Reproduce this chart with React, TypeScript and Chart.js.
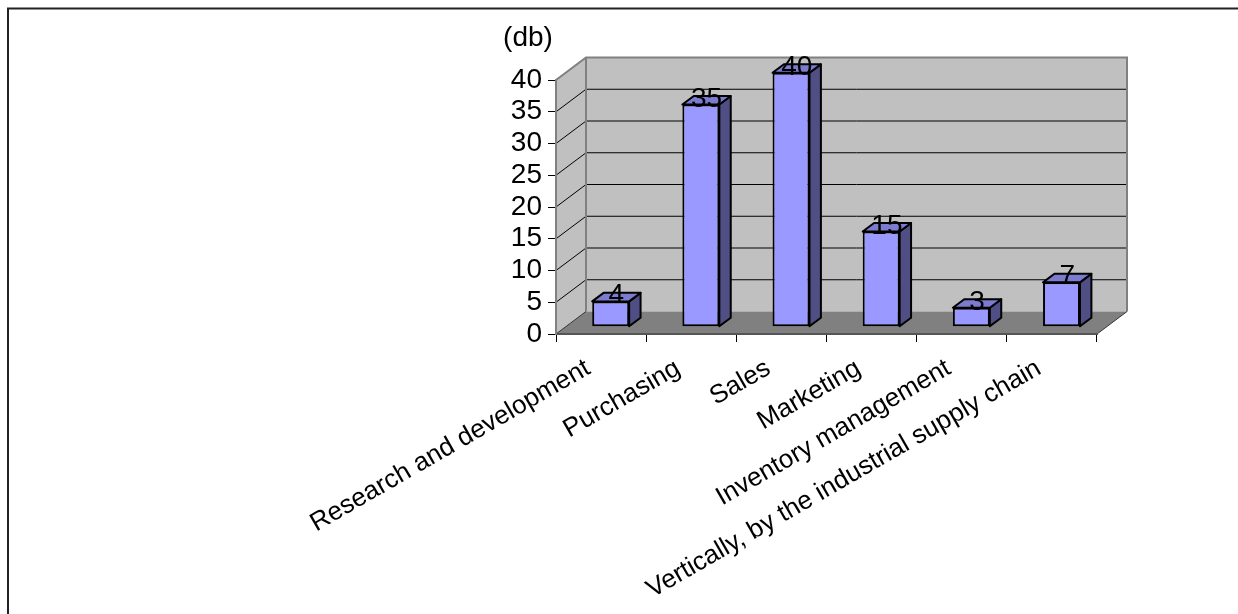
import { useEffect, useRef } from 'react';
import { Chart, registerables } from 'chart.js';

Chart.register(...registerables);

// Survey answers: where the respondents place the activity (number of firms, "db")
const categories = [
  'Research and development',
  'Purchasing',
  'Sales',
  'Marketing',
  'Inventory management',
  'Vertically, by the industrial supply chain',
];
const counts = [4, 35, 40, 15, 3, 7];
const unitLabel = '(db)';
const yMin = 0;
const yMax = 40;
const yStep = 5;

const FONT = '"Liberation Sans", Arial, Helvetica, sans-serif';

// Oblique projection of the box: full depth of the walls in pixels
const WALL_DX = 30;
const WALL_DY = -22.5;
// Bars sit in the middle of the depth
const BAR_SHIFT = 0.32;
const BAR_DEPTH = 0.38;

const FRONT = '#9999FF';
const TOP = '#7B7BCF';
const SIDE = '#4F4F86';

function poly(ctx: CanvasRenderingContext2D, pts: number[][]) {
  ctx.beginPath();
  ctx.moveTo(pts[0][0], pts[0][1]);
  for (let i = 1; i < pts.length; i++) ctx.lineTo(pts[i][0], pts[i][1]);
  ctx.closePath();
}

const box3d = {
  id: 'box3d',
  beforeDraw(chart: any) {
    const { ctx, chartArea: a } = chart;
    const ys = chart.scales.y;
    const y0 = ys.getPixelForValue(yMin);
    const yT = ys.getPixelForValue(yMax);
    const dx = WALL_DX;
    const dy = WALL_DY;
    ctx.save();

    // outer frame (left and top edges are inside the canvas)
    ctx.strokeStyle = '#222';
    ctx.lineWidth = 2;
    ctx.beginPath();
    ctx.moveTo(8, chart.height + 10);
    ctx.lineTo(8, 8.5);
    ctx.lineTo(chart.width + 10, 8.5);
    ctx.stroke();

    // back wall
    ctx.fillStyle = '#C0C0C0';
    ctx.fillRect(a.left + dx, yT + dy, a.right - a.left, y0 - yT);
    // side wall
    poly(ctx, [[a.left, y0], [a.left, yT], [a.left + dx, yT + dy], [a.left + dx, y0 + dy]]);
    ctx.fill();
    // floor
    ctx.fillStyle = '#808080';
    poly(ctx, [[a.left, y0], [a.right, y0], [a.right + dx, y0 + dy], [a.left + dx, y0 + dy]]);
    ctx.fill();

    // gridlines on the back wall and the side wall
    ctx.strokeStyle = '#000';
    ctx.lineWidth = 1;
    ys.ticks.forEach((t: any) => {
      if (t.value <= yMin || t.value >= yMax) return;
      const py = ys.getPixelForValue(t.value);
      ctx.beginPath();
      ctx.moveTo(a.left, py);
      ctx.lineTo(a.left + dx, py + dy);
      ctx.lineTo(a.right + dx, py + dy);
      ctx.stroke();
    });

    // wall edges
    ctx.strokeStyle = '#808080';
    ctx.lineWidth = 2;
    ctx.beginPath();
    ctx.moveTo(a.left, yT);
    ctx.lineTo(a.left + dx, yT + dy);
    ctx.lineTo(a.right + dx, yT + dy);
    ctx.lineTo(a.right + dx, y0 + dy);
    ctx.moveTo(a.left + dx, yT + dy);
    ctx.lineTo(a.left + dx, y0 + dy);
    ctx.stroke();

    // floor edges
    ctx.strokeStyle = '#333';
    ctx.lineWidth = 1;
    ctx.beginPath();
    ctx.moveTo(a.right, y0);
    ctx.lineTo(a.right + dx, y0 + dy);
    ctx.moveTo(a.left, y0);
    ctx.lineTo(a.left + dx, y0 + dy);
    ctx.stroke();
    ctx.restore();
  },
  beforeDatasetsDraw(chart: any) {
    chart.ctx.save();
    chart.ctx.translate(WALL_DX * BAR_SHIFT, WALL_DY * BAR_SHIFT);
  },
  afterDatasetsDraw(chart: any) {
    const { ctx } = chart;
    ctx.restore();
    const sx = WALL_DX * BAR_SHIFT;
    const sy = WALL_DY * BAR_SHIFT;
    const bx = WALL_DX * BAR_DEPTH;
    const by = WALL_DY * BAR_DEPTH;
    const meta = chart.getDatasetMeta(0);
    ctx.save();
    ctx.lineWidth = 2;
    ctx.lineJoin = 'round';
    ctx.strokeStyle = '#000';
    meta.data.forEach((bar: any) => {
      const p = bar.getProps(['x', 'y', 'base', 'width'], true);
      const l = p.x - p.width / 2 + sx;
      const r = p.x + p.width / 2 + sx;
      const t = p.y + sy;
      const b = p.base + sy;
      ctx.fillStyle = SIDE;
      poly(ctx, [[r, t], [r, b], [r + bx, b + by], [r + bx, t + by]]);
      ctx.fill();
      ctx.stroke();
      ctx.fillStyle = TOP;
      poly(ctx, [[l, t], [r, t], [r + bx, t + by], [l + bx, t + by]]);
      ctx.fill();
      ctx.stroke();
    });

    // value labels above the bars
    ctx.fillStyle = '#000';
    ctx.font = `28px ${FONT}`;
    ctx.textAlign = 'center';
    ctx.textBaseline = 'alphabetic';
    meta.data.forEach((bar: any, i: number) => {
      const p = bar.getProps(['x', 'y'], true);
      ctx.fillText(String(counts[i]), p.x + sx + bx / 2, p.y + sy + 2);
    });

    // unit caption above the value axis
    const ys = chart.scales.y;
    ctx.font = `28px ${FONT}`;
    ctx.textBaseline = 'middle';
    ctx.fillText(unitLabel, chart.chartArea.left - 28, ys.getPixelForValue(yMax) - 42);
    ctx.restore();
  },
};

export default function App() {
  const ref = useRef<HTMLCanvasElement | null>(null);

  useEffect(() => {
    if (!ref.current) return;
    const chart = new Chart(ref.current, {
      type: 'bar',
      data: {
        labels: categories,
        datasets: [
          {
            data: counts,
            backgroundColor: FRONT,
            borderColor: '#000',
            borderWidth: 2,
            borderSkipped: false,
            barPercentage: 0.41,
            categoryPercentage: 1,
            clip: false as any,
          },
        ],
      },
      options: {
        responsive: false,
        animation: false,
        events: [],
        layout: { padding: { left: 0, top: 80, right: 141, bottom: 0 } },
        plugins: {
          legend: { display: false },
          tooltip: { enabled: false },
          title: { display: false },
        },
        scales: {
          x: {
            grid: {
              drawOnChartArea: false,
              drawTicks: true,
              tickLength: 8,
              color: '#000',
              lineWidth: 1,
            },
            border: { display: true, color: '#555', width: 2 },
            ticks: {
              autoSkip: false,
              minRotation: 30,
              maxRotation: 30,
              padding: 11,
              labelOffset: -13,
              color: '#000',
              font: { family: FONT, size: 26 },
            },
            afterFit: (scale: any) => {
              scale.height = 280;
            },
          },
          y: {
            min: yMin,
            max: yMax,
            grid: {
              drawOnChartArea: false,
              drawTicks: true,
              tickLength: 8,
              color: '#000',
              lineWidth: 1,
            },
            border: { display: true, color: '#808080', width: 2 },
            ticks: {
              stepSize: yStep,
              autoSkip: false,
              padding: 6,
              color: '#000',
              font: { family: FONT, size: 28 },
            },
            afterFit: (scale: any) => {
              scale.width = 556;
            },
          },
        },
      },
      plugins: [box3d],
    });
    return () => chart.destroy();
  }, []);

  return (
    <div style={{ position: 'fixed', left: 0, top: 0, width: 1238, height: 614, background: '#fff' }}>
      <canvas ref={ref} width={1238} height={614} style={{ display: 'block', width: 1238, height: 614 }} />
    </div>
  );
}
